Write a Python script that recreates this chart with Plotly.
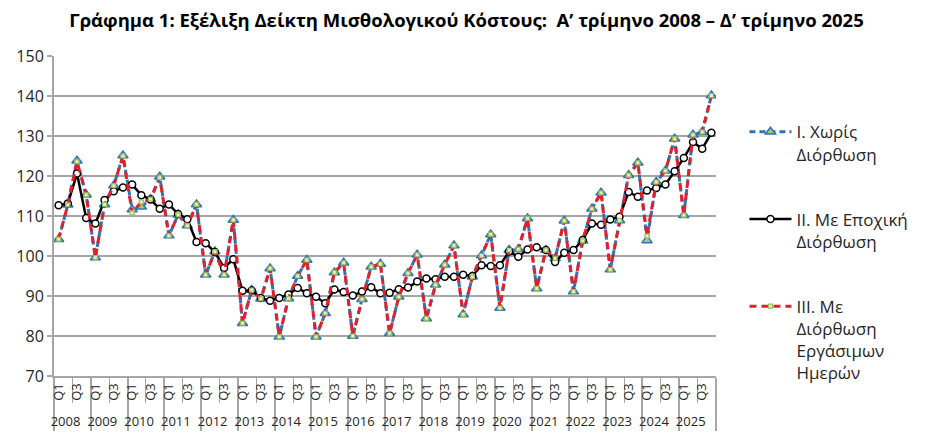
import plotly.graph_objects as go

years = [str(y) for y in range(2008, 2026)]
quarters = ["Q1", "Q2", "Q3", "Q4"]
quarter_ticklabels = ["Q1", " ", "Q3", "  "]  # only Q1 and Q3 are labelled in the original

# I. Unadjusted
unadjusted = [
    104.2, 112.8, 123.8, 115.3,
    99.6, 112.9, 117.6, 125.1,
    111.6, 112.3, 114.2, 119.8,
    105.1, 110.3, 107.6, 112.9,
    95.3, 101.1, 95.3, 109.0,
    83.2, 91.5, 89.3, 96.9,
    79.8, 89.4, 95.0, 99.0,
    79.8, 85.7, 95.9, 98.3,
    80.0, 89.2, 97.3, 98.0,
    80.7, 89.8, 95.7, 100.3,
    84.4, 92.8, 97.8, 102.6,
    85.4, 94.8, 100.1, 105.4,
    87.0, 101.5, 101.7, 109.4,
    91.9, 101.5, 99.4, 108.8,
    91.1, 103.8, 111.8, 115.8,
    96.6, 108.9, 120.2, 123.3,
    103.9, 118.5, 121.3, 129.3,
    110.2, 130.3, 131.0, 140.1,
]

# II. Seasonally adjusted
seasonal = [
    112.7, 113.1, 120.6, 109.5,
    108.1, 114.0, 116.2, 117.1,
    117.9, 115.2, 114.1, 111.8,
    112.9, 110.5, 109.2, 103.5,
    103.2, 101.0, 97.0, 99.2,
    91.3, 91.4, 89.5, 88.8,
    89.5, 90.4, 92.0, 90.7,
    89.8, 88.2, 91.6, 91.0,
    90.1, 91.1, 92.2, 90.7,
    90.8, 91.7, 92.1, 93.6,
    94.4, 94.2, 94.8, 94.8,
    95.3, 95.0, 97.7, 97.5,
    97.7, 101.1, 99.8, 101.6,
    102.2, 101.5, 98.5, 100.8,
    101.5, 104.0, 108.1, 107.8,
    109.1, 109.8, 116.0, 114.8,
    116.4, 117.0, 117.9, 121.2,
    124.5, 128.5, 126.8, 130.8,
]

# III. Working-day adjusted
working_day = [
    104.2, 112.8, 123.6, 115.3,
    99.6, 112.9, 117.6, 125.0,
    110.8, 113.5, 114.2, 119.6,
    105.1, 110.3, 107.6, 112.9,
    95.3, 101.1, 95.3, 109.0,
    83.2, 91.5, 89.3, 96.9,
    79.8, 89.4, 95.0, 99.0,
    79.8, 85.7, 95.9, 98.3,
    80.0, 89.2, 97.3, 98.0,
    80.7, 89.8, 95.7, 100.3,
    84.4, 92.8, 97.8, 102.6,
    85.4, 94.8, 100.1, 105.4,
    87.0, 101.5, 101.7, 109.4,
    91.9, 101.5, 99.4, 108.8,
    91.1, 103.8, 111.8, 115.8,
    96.6, 108.9, 120.2, 123.3,
    105.0, 118.5, 121.3, 129.3,
    110.2, 130.3, 131.0, 140.1,
]

names = [
    "I. Χωρίς<br>Διόρθωση",
    "ΙΙ. Με Εποχική<br>Διόρθωση",
    "ΙΙΙ. Με<br>Διόρθωση<br>Εργάσιμων<br>Ημερών",
]

x = [
    [y for y in years for _ in quarters],
    [lab for _ in years for lab in quarter_ticklabels],
]
n_points = len(x[0])

FONT = "Open Sans"
fig = go.Figure()
fig.add_trace(go.Scatter(
    x=x, y=unadjusted, name=names[0], mode="lines+markers",
    line=dict(color="#2E75B6", width=3, dash="6px,4px"),
    marker=dict(symbol="triangle-up", size=9, color="#A9C46A",
                line=dict(color="#2E75B6", width=1.5)),
    legendgroup="a",
))
fig.add_trace(go.Scatter(
    x=x, y=seasonal, name=names[1], mode="lines+markers",
    line=dict(color="black", width=2.5),
    marker=dict(symbol="circle", size=7, color="white",
                line=dict(color="black", width=1.5)),
    legendgroup="b",
))
fig.add_trace(go.Scatter(
    x=x, y=working_day, name=names[2], mode="lines+markers",
    line=dict(color="#E3202A", width=3, dash="7px,5px"),
    marker=dict(symbol="square", size=4, color="#E6EFC8",
                line=dict(color="#9BBB59", width=1.2)),
    legendgroup="c",
))

fig.update_layout(
    width=917, height=431,
    margin=dict(l=46, r=204, t=48, b=63),
    paper_bgcolor="white", plot_bgcolor="white",
    font=dict(family=FONT, color="#262626"),
    title=dict(
        text="<b>Γράφημα 1: Εξέλιξη Δείκτη Μισθολογικού Κόστους:  Α’ τρίμηνο 2008 – Δ’ τρίμηνο 2025</b>",
        x=0.5, xanchor="center", y=0.971, yanchor="middle",
        font=dict(family=FONT, size=18.5, color="black"),
    ),
    showlegend=True,
    legend=dict(
        x=1.043, xanchor="left", y=0.818, yanchor="top",
        valign="top", tracegroupgap=40, itemwidth=42,
        font=dict(family=FONT, size=17, color="#262626"),
        bgcolor="rgba(0,0,0,0)",
    ),
)
fig.update_yaxes(
    range=[70, 150], dtick=10, showgrid=True, gridcolor="#A6A6A6", gridwidth=2,
    showline=True, linecolor="#A6A6A6", linewidth=2,
    ticks="outside", ticklen=5, tickcolor="#A6A6A6", tickwidth=2,
    tickfont=dict(family=FONT, size=16, color="#262626"),
    zeroline=False, automargin=False,
)
fig.update_xaxes(
    type="multicategory", tickangle=-90, range=[-0.5, n_points - 0.5],
    showline=True, linecolor="#A6A6A6", linewidth=2,
    ticks="outside", tickson="boundaries", ticklen=25, tickcolor="#A6A6A6", tickwidth=1,
    showdividers=True, dividercolor="#A6A6A6", dividerwidth=1.5,
    tickfont=dict(family=FONT, size=13, color="#262626"),
    showgrid=False, automargin=False,
)

fig.write_html("out.html")
